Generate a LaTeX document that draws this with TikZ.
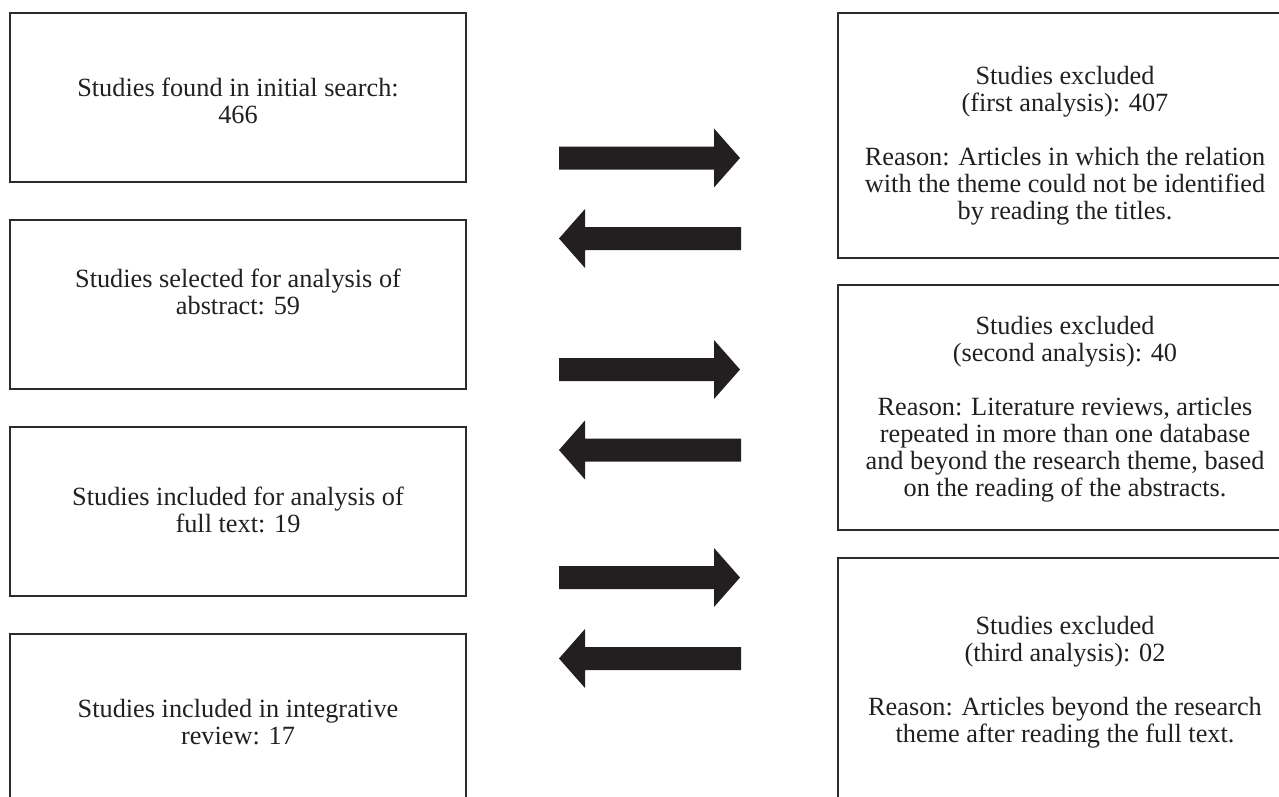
\documentclass[tikz,border=0pt]{standalone}
\usepackage{fontspec}
\setmainfont{Liberation Serif}
\definecolor{ink}{RGB}{35,31,32}
\definecolor{frame}{RGB}{45,42,43}
\tikzset{
  boxL/.style={draw=frame, line width=1pt, minimum width=228pt, minimum height=84.5pt, inner sep=0pt},
  boxR/.style={draw=frame, line width=1pt, minimum width=227pt, minimum height=122.5pt, inner sep=0pt},
  txt/.style={align=center, text=ink, font=\fontsize{13.15}{13.5}\selectfont, inner sep=0pt},
  rarrow/.pic={\fill[ink] (0,-11.5) -- (155,-11.5) -- (155,-29.5) -- (181,0) -- (155,29.5) -- (155,11.5) -- (0,11.5) -- cycle;},
  larrow/.pic={\fill[ink] (0,0) -- (26,-29.5) -- (26,-11.5) -- (182,-11.5) -- (182,11.5) -- (26,11.5) -- (26,29.5) -- cycle;}
}
\begin{document}
\begin{tikzpicture}[x=0.5pt,y=-0.5pt]
\useasboundingbox (0,0) rectangle (1279,797);
\clip (0,0) rectangle (1279,797);
% left column
\node[boxL] (l1) at (238,97.5) {};
\node[boxL] (l2) at (238,304.5) {};
\node[boxL] (l3) at (238,511.5) {};
\node[boxL] (l4) at (238,718.5) {};
\node[txt] (l1t) at (238,100.5) {Studies found in initial search:\\466};
\node[txt] (l2t) at (238,292) {Studies selected for analysis of\\abstract: 59};
\node[txt] (l3t) at (238,510) {Studies included for analysis of\\full text: 19};
\node[txt] (l4t) at (238,722.5) {Studies included in integrative\\review: 17};
% right column
\node[boxR] (r1) at (1065,135.25) {};
\node[boxR] (r2) at (1065,407.5) {};
\node[boxR] (r3) at (1065,680.5) {};
\node[txt] (r1t) at (1065,146) {Studies excluded\\(first analysis): 407\\[13.5pt]Reason: Articles in which the relation\\with the theme could not be identified\\by reading the titles.};
\node[txt] (r2t) at (1065,409) {Studies excluded\\(second analysis): 40\\[13.5pt]Reason: Literature reviews, articles\\repeated in more than one database\\and beyond the research theme, based\\on the reading of the abstracts.};
\node[txt] (r3t) at (1065,682) {Studies excluded\\(third analysis): 02\\[13.5pt]Reason: Articles beyond the research\\theme after reading the full text.};
% block arrows
\pic at (559,158) {rarrow};
\pic at (559,238.5) {larrow};
\pic at (559,369.5) {rarrow};
\pic at (559,450) {larrow};
\pic at (559,577.5) {rarrow};
\pic at (559,658.5) {larrow};
\end{tikzpicture}
\end{document}
